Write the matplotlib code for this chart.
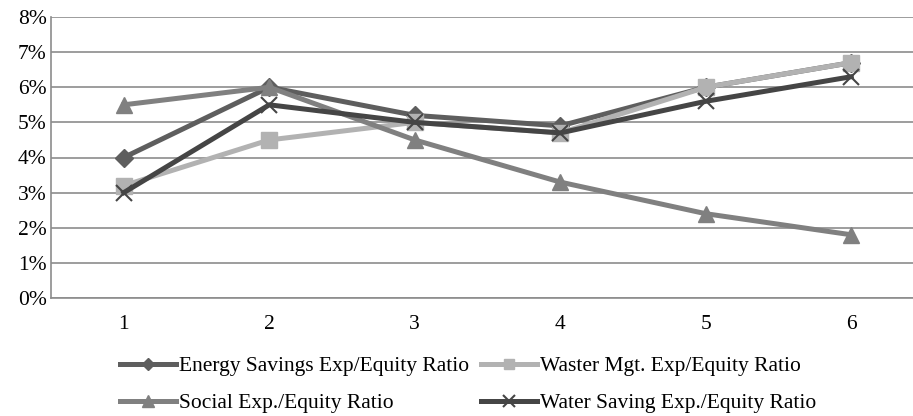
import matplotlib
matplotlib.use("Agg")
import matplotlib.pyplot as plt
from matplotlib.ticker import FuncFormatter

categories = [1, 2, 3, 4, 5, 6]
energy = [4.0, 6.0, 5.2, 4.9, 6.0, 6.7]
waste = [3.2, 4.5, 5.0, 4.7, 6.0, 6.7]
social = [5.5, 6.0, 4.5, 3.3, 2.4, 1.8]
water = [3.0, 5.5, 5.0, 4.7, 5.6, 6.3]
labels = ["Energy Savings Exp/Equity Ratio", "Waster Mgt. Exp/Equity Ratio",
          "Social Exp./Equity Ratio", "Water Saving Exp./Equity Ratio"]

plt.rcParams['font.family'] = ['Liberation Serif']
FS = 15.5

fig = plt.figure(figsize=(9.13, 4.16), dpi=100)
W, H = 913, 416
ax = fig.add_axes([51 / W, 1 - 298 / H, (924 - 51) / W, (298 - 17) / H])

lw = 3.6
h_e, = ax.plot(categories, energy, color='#5e5e5e', lw=lw, marker='D', ms=9, zorder=3)
h_w, = ax.plot(categories, waste, color='#b2b2b2', lw=lw, marker='s', ms=11, zorder=3)
h_s, = ax.plot(categories, social, color='#808080', lw=lw, marker='^', ms=12, zorder=3)
h_x, = ax.plot(categories, water, color='#454545', lw=lw, marker='x', ms=12, mew=1.5, zorder=4)

ax.set_xlim(0.5, 6.5)
ax.set_ylim(0, 8)
ax.set_yticks(range(0, 9))
ax.yaxis.set_major_formatter(FuncFormatter(lambda v, p: f"{int(v)}%"))
ax.set_xticks(categories)
ax.grid(axis='y', color='#8c8c8c', lw=1.2)
ax.set_axisbelow(True)
for s in ['top', 'right']:
    ax.spines[s].set_visible(False)
for s in ['left', 'bottom']:
    ax.spines[s].set_color('#8c8c8c')
    ax.spines[s].set_linewidth(1.2)
ax.tick_params(axis='both', length=0, labelsize=FS, colors='black')
ax.tick_params(axis='y', pad=3)
ax.tick_params(axis='x', pad=12)

fig.legend([h_e, h_s, h_w, h_x], [labels[0], labels[2], labels[1], labels[3]],
           ncol=2, loc='upper left', bbox_to_anchor=(120 / W, 1 - 356 / H),
           frameon=False, fontsize=FS, handlelength=2.6, handletextpad=0.15,
           columnspacing=0.55, labelspacing=0.8, borderpad=0, borderaxespad=0,
           markerscale=0.7)

fig.savefig("out.png", dpi=100)
